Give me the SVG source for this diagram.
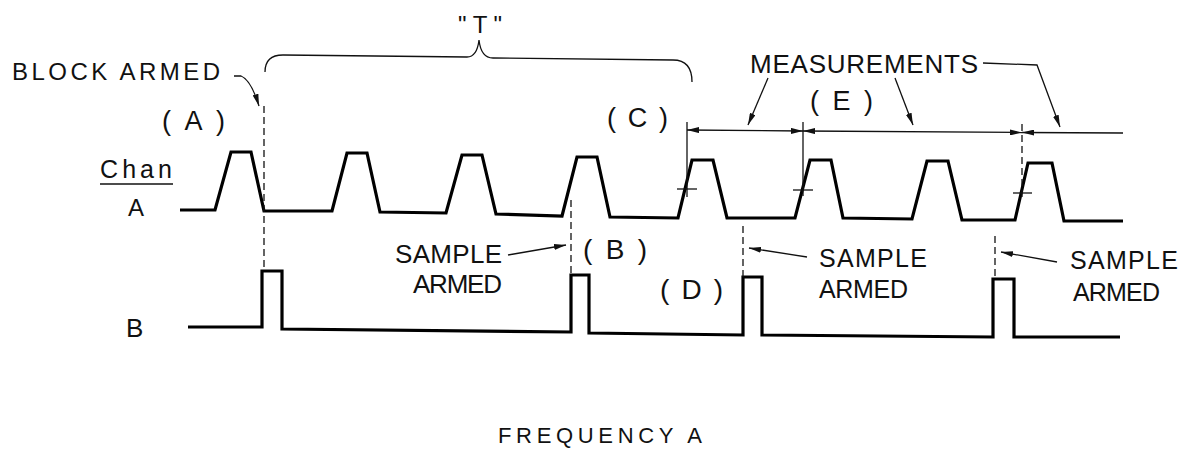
<svg xmlns="http://www.w3.org/2000/svg" width="1182" height="454" viewBox="0 0 1182 454">
<style>
  text { font-family: "Liberation Sans", Arial, sans-serif; fill: #111; }
  .wave { fill: none; stroke: #000; stroke-width: 3.2; stroke-linejoin: miter; }
  .thin { fill: none; stroke: #111; stroke-width: 1.3; }
  .dash { fill: none; stroke: #111; stroke-width: 1.3; stroke-dasharray: 7 4; }
  .lead { fill: none; stroke: #111; stroke-width: 1.3; }
</style>
<defs>
  <marker id="arr" viewBox="0 0 12 6" refX="12" refY="3" markerWidth="12" markerHeight="6" markerUnits="userSpaceOnUse" orient="auto-start-reverse">
    <path d="M0,0 L12,3 L0,6 Z" fill="#111"/>
  </marker>
</defs>
<rect width="1182" height="454" fill="#fff"/>

<g id="chanA">
  <path class="wave" d="M180,210 L215,210 L231,152 L251,152 L264,211 L332,211 L347,153 L367,153 L380,212 L446,213 L462,155 L482,155 L496,214 L562,216 L577,157 L597,157 L610,217 L678,218 L692,160 L713,160 L727,218 L795,218 L810,160 L831,160 L843,218 L912,219 L927,161 L948,161 L962,220 L1015,220 L1028,163 L1052,163 L1064,221 L1123,221"/>
  <text x="100" y="178" font-size="25" textLength="72" lengthAdjust="spacing">Chan</text>
  <line class="thin" x1="100" y1="184" x2="173" y2="184"/>
  <text x="128" y="216" font-size="24">A</text>
</g>

<g id="chanB">
  <path class="wave" d="M188,327 L262,327 L262,271 L282,271 L282,329 L571,332 L571,275 L589,275 L589,333 L743,335 L743,277 L762,277 L762,335 L993,337 L993,279 L1014,279 L1014,337 L1120,337"/>
  <text x="126" y="337" font-size="26">B</text>
</g>

<g id="label-block-armed">
  <text x="12" y="80" font-size="24" textLength="208" lengthAdjust="spacing">BLOCK ARMED</text>
  <text x="162" y="130" font-size="27" textLength="63" lengthAdjust="spacing">(A)</text>
</g>

<g id="label-T">
  <text x="458" y="33" font-size="24" textLength="44" lengthAdjust="spacing">"T"</text>
  <path class="thin" d="M265,72 Q265,55 283,55 L467,57 Q477,57 479,40 Q481,58 493,58 L673,60 Q692,60 692,82"/>
</g>

<g id="label-C">
  <text x="607" y="127" font-size="27" textLength="61" lengthAdjust="spacing">(C)</text>
</g>

<g id="label-measurements">
  <text x="750" y="73" font-size="26" textLength="228" lengthAdjust="spacing">MEASUREMENTS</text>
  <text x="810" y="110" font-size="27" textLength="63" lengthAdjust="spacing">(E)</text>
</g>

<g id="label-sample-1">
  <text x="395" y="263" font-size="26" textLength="107" lengthAdjust="spacing">SAMPLE</text>
  <text x="413" y="293" font-size="26" textLength="89" lengthAdjust="spacing">ARMED</text>
  <text x="583" y="259" font-size="28" textLength="64" lengthAdjust="spacing">(B)</text>
</g>

<g id="label-D">
  <text x="660" y="299" font-size="28" textLength="63" lengthAdjust="spacing">(D)</text>
</g>

<g id="label-sample-2">
  <text x="819" y="267" font-size="25" textLength="108" lengthAdjust="spacing">SAMPLE</text>
  <text x="819" y="298" font-size="25" textLength="89" lengthAdjust="spacing">ARMED</text>
</g>

<g id="label-sample-3">
  <text x="1070" y="269" font-size="25" textLength="108" lengthAdjust="spacing">SAMPLE</text>
  <text x="1073" y="301" font-size="25" textLength="87" lengthAdjust="spacing">ARMED</text>
</g>

<g id="title">
  <text x="498" y="443" font-size="22" textLength="204" lengthAdjust="spacing">FREQUENCY A</text>
</g>

<g id="connectors">
  <line class="dash" x1="264" y1="106" x2="264" y2="270"/>
  <line class="dash" x1="571" y1="200" x2="571" y2="275"/>
  <line class="dash" x1="743" y1="226" x2="743" y2="277"/>
  <line class="dash" x1="995" y1="236" x2="995" y2="279"/>
  <line class="thin" x1="687" y1="122" x2="687" y2="197"/>
  <line class="thin" x1="677" y1="189" x2="697" y2="189"/>
  <line class="thin" x1="803" y1="122" x2="803" y2="196"/>
  <line class="thin" x1="793" y1="190" x2="813" y2="190"/>
  <line class="dash" x1="1022" y1="124" x2="1022" y2="198"/>
  <line class="thin" x1="1013" y1="193" x2="1032" y2="193"/>
  <line class="thin" x1="687" y1="130" x2="803" y2="131" marker-start="url(#arr)" marker-end="url(#arr)"/>
  <line class="thin" x1="803" y1="131" x2="1022" y2="132.5" marker-start="url(#arr)" marker-end="url(#arr)"/>
  <line class="thin" x1="1022" y1="132.5" x2="1123" y2="133" marker-start="url(#arr)"/>
  <path class="lead" d="M234,76 L241,76 Q251,80 259,106" marker-end="url(#arr)"/>
  <line class="lead" x1="768" y1="78" x2="748" y2="125" marker-end="url(#arr)"/>
  <line class="lead" x1="895" y1="78" x2="913" y2="125" marker-end="url(#arr)"/>
  <path class="lead" d="M983,63 L1037,65 L1060,127" marker-end="url(#arr)"/>
  <line class="lead" x1="508" y1="255" x2="566" y2="245" marker-end="url(#arr)"/>
  <line class="lead" x1="807" y1="257" x2="749" y2="248" marker-end="url(#arr)"/>
  <line class="lead" x1="1057" y1="262" x2="1001" y2="252" marker-end="url(#arr)"/>
</g>
</svg>
